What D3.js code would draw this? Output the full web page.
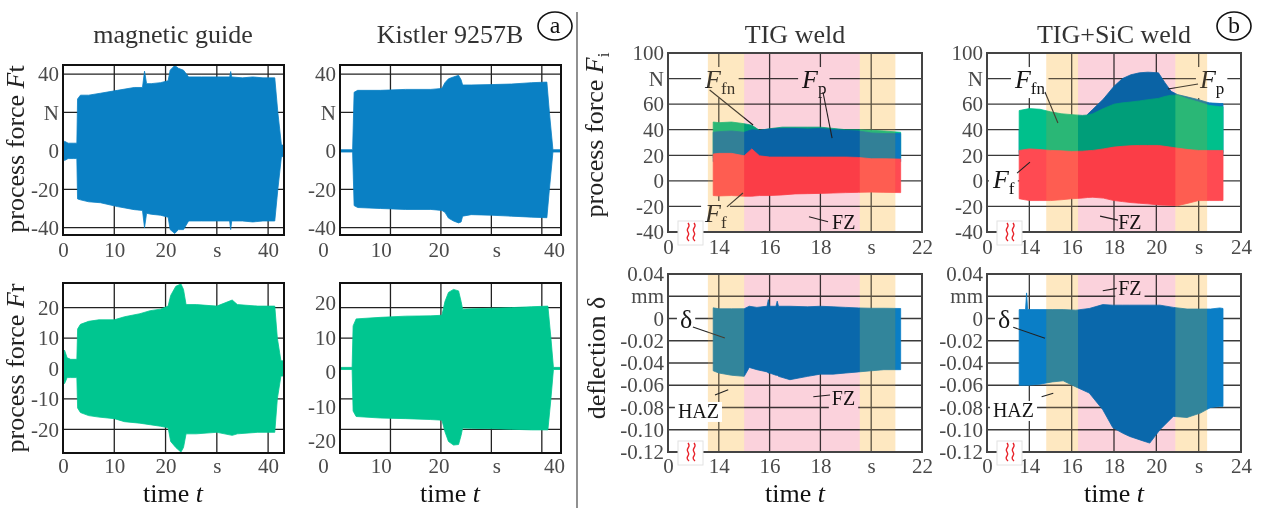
<!DOCTYPE html>
<html>
<head>
<meta charset="utf-8">
<script src="https://cdn.jsdelivr.net/npm/d3@7"></script>
<style>
  body { margin: 0; background: #fff; }
  svg { display: block; font-family: "Liberation Serif", "Times New Roman", serif; }
</style>
</head>
<body>
<svg id="fig" width="1268" height="508"></svg>
<script>
// ---- (a) magnetic guide vs Kistler, envelopes of the oscillating force signals
const magFtT  = [0, 0.3, 1.0, 2.0, 2.7, 2.84, 3.4, 5, 7.3, 10.6, 13.9, 15.5, 15.9, 16.3, 17.2, 19, 20.5, 20.9, 21.8, 22.5, 23.5, 24.5, 27, 30, 32.5, 32.7, 32.9, 35, 37, 39, 41.3, 41.9, 42.6, 43.1];
const magFtUp = [3, 5, 4, 4, 4, 27, 29, 29, 30, 31.5, 33, 33, 41.5, 35, 35, 35.5, 36.5, 42, 44.5, 43, 42, 38.5, 38.5, 38.5, 38.5, 41.3, 38.5, 38, 38.5, 38, 38, 20, 3, 3];
const magFtLo = [-3, -5, -4, -4, -4, -25, -25.5, -26.5, -27, -29, -30.6, -31, -40, -32.5, -33, -33.5, -34.5, -41, -43, -41, -41, -36.5, -36.5, -36.5, -36.5, -41, -36.5, -36.5, -37, -36.5, -36.5, -20, -3, -3];

const kisFtT  = [0, 2.5, 2.8, 3.5, 8, 13, 18, 20.2, 20.8, 21.5, 22.5, 23.5, 24.0, 24.3, 26, 30, 34, 38, 41.0, 41.5, 42.2, 43.8];
const kisFtUp = [0.6, 0.6, 30.5, 31.5, 31.5, 32, 32, 32.5, 35.5, 37.5, 38.5, 39.3, 37, 34.3, 34.3, 34.5, 34.8, 35.5, 35.8, 20, 0.6, 0.6];
const kisFtLo = [-0.6, -0.6, -28.5, -29.5, -30, -30.5, -30.5, -31, -32, -35, -36.5, -37.5, -37, -34, -33.2, -33.5, -34, -34.5, -34.8, -20, -0.6, -0.6];

const magFrT  = [0, 0.3, 0.8, 1.5, 2.7, 2.85, 3.4, 5, 7, 10, 12, 15, 17, 19, 20.5, 21, 22, 23, 23.5, 24, 26, 30, 33, 34, 38, 41.3, 41.8, 42.5, 43.1];
const magFrUp = [2, 6, 3.5, 3, 3, 13, 14.5, 15.5, 16, 16, 17, 18, 19, 19.5, 20.5, 24, 27, 27.8, 26, 21, 21, 20.5, 22.5, 21, 20.5, 20.5, 10, 2.5, 2.5];
const magFrLo = [-2, -5, -3, -3, -3, -13, -14.5, -15.5, -16, -16.5, -17.5, -18, -18.5, -19, -19.5, -24, -26, -27.5, -26, -21.5, -21.5, -21, -22, -21.5, -21, -21, -10, -2.5, -2.5];

const kisFrT  = [0, 2.4, 2.6, 3.2, 8, 13, 18, 20.2, 20.8, 21.5, 22.5, 23.5, 24.0, 24.3, 26, 30, 34, 38, 41.2, 41.8, 42.3, 43.8];
const kisFrUp = [0.35, 0.35, 14, 16.3, 16.8, 17.2, 17.3, 17.5, 22, 25, 26, 25.5, 22, 19.5, 19.6, 19.8, 20, 20.3, 20.5, 10, 0.35, 0.35];
const kisFrLo = [-0.35, -0.35, -14, -15.8, -16.3, -16.5, -16.8, -17, -20.8, -24, -25.2, -25, -22, -19.6, -19.7, -19.8, -20, -20.2, -20.2, -10, -0.35, -0.35];

// ---- (b) TIG weld: forces F_fn, F_p, F_f and deflection
const tigT     = [13.78, 14.0, 14.5, 15.0, 15.3, 15.6, 16.0, 16.5, 17.0, 17.5, 18.0, 18.5, 19.0, 19.5, 20.0, 20.5, 21.16];
const tigFfnUp = [46, 45.5, 46, 44.7, 43.5, 39.5, 40.8, 42, 42, 42, 42, 41, 40, 40, 39.6, 39, 38];
const tigFfnLo = [18, 18, 18, 18, 18, 18, 18, 18, 18, 18, 18, 18, 18, 18, 18, 18, 18];
const tigFpUp  = [38, 38.5, 39, 38, 40, 39.5, 40.5, 41, 41, 40.5, 41, 40, 39.5, 39, 37.5, 37, 37];
const tigFpLo  = [15, 15, 15, 15, 15, 15, 15, 15, 15, 15, 15, 15, 15, 15, 15, 15, 15];
const tigFfUp  = [21, 21.5, 21.5, 19.6, 25, 19.6, 18.6, 18.6, 18.6, 18.6, 18.6, 18.6, 18.6, 18.3, 17.3, 17.3, 17];
const tigFfLo  = [-11.5, -11.8, -11.5, -12, -12, -11.5, -11.5, -11, -10.2, -10, -9.8, -9.5, -9.2, -9, -8.8, -9, -9.2];

const tigDT  = [13.78, 14.0, 14.5, 15.0, 15.2, 15.5, 15.9, 15.95, 16.0, 16.25, 16.3, 16.35, 16.8, 17.5, 18.0, 18.5, 19.0, 19.5, 20.0, 20.5, 21.16];
const tigDUp = [0.0096, 0.0087, 0.0087, 0.0088, 0.011, 0.010, 0.011, 0.017, 0.011, 0.011, 0.0156, 0.011, 0.011, 0.0105, 0.011, 0.0105, 0.010, 0.0095, 0.0092, 0.0092, 0.009];
const tigDLo = [-0.047, -0.049, -0.051, -0.052, -0.044, -0.046, -0.048, -0.049, -0.049, -0.051, -0.051, -0.052, -0.055, -0.052, -0.050, -0.050, -0.049, -0.048, -0.047, -0.046, -0.046];

// ---- (b) TIG+SiC weld
const sicT     = [13.52, 14.0, 14.5, 15.0, 15.5, 16.0, 16.5, 16.75, 17.0, 17.5, 18.0, 18.4, 18.8, 19.2, 19.6, 20.1, 20.4, 20.7, 21.0, 21.5, 22.0, 22.5, 23.0, 23.15];
const sicFpUp  = [40, 40, 40, 40, 40, 40, 40, 52, 56, 64, 74, 80, 83, 84.5, 85, 84.5, 77, 70, 67.5, 65.5, 63.5, 61, 60.5, 60.5];
const sicFpLo  = [20, 20, 20, 20, 20, 20, 20, 20, 20, 20, 20, 20, 20, 20, 20, 20, 20, 20, 20, 20, 20, 20, 20, 20];
const sicFfnUp = [55, 56.5, 56, 54, 52.5, 51.8, 51.2, 51.5, 52.5, 56.5, 60, 61, 61.7, 62.5, 63.5, 64.5, 66, 67, 67, 64, 61.7, 59, 58, 58];
const sicFfnLo = [22, 22, 22, 22, 22, 22, 22, 22, 22, 22, 22, 22, 22, 22, 22, 22, 22, 22, 22, 22, 22, 22, 22, 22];
const sicFfUp  = [23.8, 25, 24.5, 23.8, 23.5, 23, 23.2, 23.5, 23.8, 25, 26.4, 27, 27.5, 27.7, 27.7, 27.7, 27, 26.3, 25.6, 24.5, 23.8, 23.8, 23.8, 23.8];
const sicFfLo  = [-14, -15.4, -15.4, -15.4, -14.8, -14, -13.5, -13, -12.8, -13.5, -15.4, -16.2, -17, -17.5, -18, -18.8, -19, -19.2, -19.4, -17.5, -15.4, -15.4, -15.4, -15.4];

const sicDT  = [13.52, 13.82, 13.87, 13.92, 14.5, 15.08, 15.6, 16.2, 16.83, 17.47, 17.94, 18.4, 18.74, 19.37, 19.69, 20.17, 20.8, 21.45, 22.08, 22.56, 23.0, 23.15];
const sicDUp = [0.008, 0.008, 0.023, 0.008, 0.008, 0.008, 0.008, 0.0075, 0.009, 0.0125, 0.012, 0.012, 0.012, 0.012, 0.012, 0.012, 0.010, 0.0085, 0.0085, 0.0085, 0.0095, 0.009];
const sicDLo = [-0.06, -0.06, -0.06, -0.06, -0.059, -0.057, -0.056, -0.0615, -0.067, -0.082, -0.098, -0.103, -0.106, -0.11, -0.112, -0.1, -0.088, -0.089, -0.085, -0.08, -0.079, -0.079];

// weld zones (s): heat affected zone / fusion zone
const tigZones = [[13.57, 15.0, "HAZ"], [15.0, 19.55, "FZ"], [19.55, 20.95, "HAZ"]];
const sicZones = [[14.8, 16.3, "HAZ"], [16.3, 20.9, "FZ"], [20.9, 22.4, "HAZ"]];

// ticks
const leftXTicks = [0, 10, 20, 30, 40];
const ftTicks = [-40, -20, 0, 20, 40];
const frTicks = [-20, -10, 0, 10, 20];
const tigXTicks = [12, 14, 16, 18, 20, 22];
const sicXTicks = [12, 14, 16, 18, 20, 22, 24];
const forceTicks = [-40, -20, 0, 20, 40, 60, 80, 100];
const deflTicks = [-0.12, -0.10, -0.08, -0.06, -0.04, -0.02, 0, 0.02, 0.04];

const C = { ft: "#0a80c4", fr: "#00c690", ffn: "#00c08c", fp: "#0a78c0", ff: "#ff4a52", d: "#0a7ec6",
            hazMul: "#ffecc8", hazTint: "#fad7a0", fz: "#fbd2dc" };

const svg = d3.select("#fig");
let clipN = 0;

function panel(o) {
  const p = { o };
  p.x = d3.scaleLinear().domain(o.xd).range([o.x0, o.x1]);
  p.y = d3.scaleLinear().domain(o.yd).range([o.y1, o.y0]);
  const id = "clip" + (clipN++);
  svg.append("clipPath").attr("id", id).append("rect")
    .attr("x", o.x0).attr("y", o.y0).attr("width", o.x1 - o.x0).attr("height", o.y1 - o.y0);
  p.grid = svg.append("g");
  p.data = svg.append("g").attr("clip-path", `url(#${id})`);
  p.ann = svg.append("g");
  p.zone = svg.append("g");
  p.frame = svg.append("g");
  p.top = svg.append("g");

  p.grid.selectAll("line.v").data(o.xt.filter(d => d > o.xd[0] && d < o.xd[1])).join("line")
    .attr("class", "v")
    .attr("x1", d => p.x(d)).attr("x2", d => p.x(d)).attr("y1", o.y0).attr("y2", o.y1)
    .attr("stroke", o.grid).attr("stroke-width", 1.3);
  p.grid.selectAll("line.h").data(o.yt.filter(d => d > o.yd[0] && d < o.yd[1])).join("line")
    .attr("class", "h")
    .attr("x1", o.x0).attr("x2", o.x1).attr("y1", d => p.y(d)).attr("y2", d => p.y(d))
    .attr("stroke", o.grid).attr("stroke-width", 1.3);

  p.frame.append("rect").attr("x", o.x0).attr("y", o.y0)
    .attr("width", o.x1 - o.x0).attr("height", o.y1 - o.y0)
    .attr("fill", "none").attr("stroke", o.border).attr("stroke-width", 2);

  const xl = o.xLab ? d3.scaleLinear().domain(o.xLab[0]).range(o.xLab[1]) : p.x;
  const yl = o.yLab ? d3.scaleLinear().domain(o.yLab[0]).range(o.yLab[1]) : p.y;
  const ax = p.frame.append("g").attr("transform", `translate(0,${o.y1})`)
    .call(d3.axisBottom(xl).tickValues(o.xt).tickFormat(o.xf).tickSize(0).tickPadding(o.xpad || 7));
  const ay = p.frame.append("g").attr("transform", `translate(${o.x0},0)`)
    .call(d3.axisLeft(yl).tickValues(o.yt).tickFormat(o.yf).tickSize(0).tickPadding(4));
  [ax, ay].forEach(a => {
    a.select(".domain").remove();
    a.attr("font-family", null).attr("font-size", 21);
    a.selectAll("text").attr("fill", "#4a4a4a");
  });
  return p;
}

function band(p, t, up, lo, color) {
  const rows = t.map((d, i) => ({ t: d, u: up[i], l: lo[i] }));
  p.data.append("path").datum(rows)
    .attr("d", d3.area().x(d => p.x(d.t)).y0(d => p.y(d.l)).y1(d => p.y(d.u)))
    .attr("fill", color).attr("stroke", color).attr("stroke-width", 0.8);
}

function zones(p, z) {
  const sel = p.zone.selectAll("g").data(z).join("g");
  const place = r => r.attr("x", d => p.x(d[0])).attr("width", d => p.x(d[1]) - p.x(d[0]))
    .attr("y", p.o.y0).attr("height", p.o.y1 - p.o.y0);
  // fusion zone: pink multiply; heat affected zone: multiply plus a light orange tint
  sel.append("rect").call(place)
    .attr("fill", d => d[2] === "FZ" ? C.fz : C.hazMul)
    .style("mix-blend-mode", "multiply");
  sel.filter(d => d[2] === "HAZ").append("rect").call(place)
    .attr("fill", C.hazTint).attr("opacity", 0.17);
}

function note(p, a, layer) {
  const g = (layer || p.ann).append("g");
  g.append("line")
    .attr("x1", p.x(a.from[0])).attr("y1", p.y(a.from[1]))
    .attr("x2", p.x(a.to[0])).attr("y2", p.y(a.to[1]))
    .attr("stroke", "#222").attr("stroke-width", 1.1);
  const txt = g.append("text").attr("x", p.x(a.at[0])).attr("y", p.y(a.at[1]))
    .attr("font-size", a.size || 26).attr("fill", "#151515");
  a.parts.forEach(s => {
    const ts = txt.append("tspan").text(s[0]);
    if (s[1] === "it") ts.attr("font-style", "italic");
    if (s[1] === "sub") ts.attr("font-size", 17).attr("dy", 6);
  });
  const bb = txt.node().getBBox();
  g.insert("rect", ":first-child").attr("x", bb.x - 3).attr("y", bb.y + 2)
    .attr("width", bb.width + 6).attr("height", bb.height - 2).attr("fill", "#fff");
}

function brk(p) {
  const o = p.o;
  const g = p.top.append("g").attr("transform", `translate(${o.x0 + 22},${o.y1})`);
  g.append("rect").attr("x", -12).attr("y", -11).attr("width", 25).attr("height", 24)
    .attr("fill", "#fff").attr("stroke", "#e2e2e2").attr("stroke-width", 1);
  const wave = d3.line().curve(d3.curveBasis);
  [-3, 3].forEach(dx => g.append("path")
    .attr("d", wave([[dx + 1, -9], [dx + 3, -6], [dx - 1, -2], [dx + 3, 2], [dx - 1, 6], [dx + 2, 9]]))
    .attr("fill", "none").attr("stroke", "#e8232a").attr("stroke-width", 1.4));
}

const leftFmt = d => d === 30 ? "s" : d;
const ftFmt = d => d === 20 ? "N" : d;
const frFmt = d => d;
const tigFmt = d => d === 12 ? "0" : d === 20 ? "s" : d;
const sicFmt = d => d === 12 ? "0" : d === 22 ? "s" : d;
const forceFmt = d => d === 80 ? "N" : d;
const deflFmt = d => d === 0.02 ? "mm" : d === 0 ? "0" : d.toFixed(2);

const L = { border: "#111", grid: "#222" }, R = { border: "#444", grid: "#3a3a3a" };

// ---- panels (a)
const pA1 = panel({ ...L, x0: 63, x1: 284, y0: 65, y1: 235, xd: [0, 43.1], yd: [-43.8, 44.7],
  xt: leftXTicks, yt: ftTicks, xf: leftFmt, yf: ftFmt });
band(pA1, magFtT, magFtUp, magFtLo, C.ft);

const pA2 = panel({ ...L, x0: 340, x1: 561, y0: 65, y1: 235, xd: [0, 43.8], yd: [-43.8, 44.7],
  xt: leftXTicks, yt: ftTicks, xf: leftFmt, yf: ftFmt, xLab: [[0, 40], [323, 554]] });
band(pA2, kisFtT, kisFtUp, kisFtLo, C.ft);

const pA3 = panel({ ...L, x0: 63, x1: 284, y0: 283, y1: 453, xd: [0, 43.1], yd: [-27.8, 28.1],
  xt: leftXTicks, yt: frTicks, xf: leftFmt, yf: frFmt, xpad: 5 });
band(pA3, magFrT, magFrUp, magFrLo, C.fr);

const pA4 = panel({ ...L, x0: 340, x1: 561, y0: 283, y1: 453, xd: [0, 43.8], yd: [-27.8, 28.1],
  xt: leftXTicks, yt: frTicks, xf: leftFmt, yf: frFmt, xpad: 5,
  xLab: [[0, 40], [323, 554]], yLab: [[-20, 20], [441, 303]] });
band(pA4, kisFrT, kisFrUp, kisFrLo, C.fr);

// ---- panels (b)
const pB1 = panel({ ...R, x0: 668, x1: 922, y0: 53, y1: 232, xd: [12, 22], yd: [-40, 100],
  xt: tigXTicks, yt: forceTicks, xf: tigFmt, yf: forceFmt });
band(pB1, tigT, tigFfnUp, tigFfnLo, C.ffn);
band(pB1, tigT, tigFpUp, tigFpLo, C.fp);
band(pB1, tigT, tigFfUp, tigFfLo, C.ff);
note(pB1, { parts: [["F", "it"], ["fn", "sub"]], at: [13.46, 72.6], from: [13.64, 71.1], to: [15.35, 43.7] });
note(pB1, { parts: [["F", "it"], ["p", "sub"]], at: [17.28, 72.6], from: [18.1, 69.5], to: [18.46, 33.5] });
note(pB1, { parts: [["F", "it"], ["f", "sub"]], at: [13.46, -32.2], from: [14.32, -20.4], to: [14.95, -9.5] });
note(pB1, { parts: [["FZ"]], size: 20, at: [18.46, -37.4], from: [17.55, -28], to: [18.3, -32] });
zones(pB1, tigZones);
brk(pB1);

const pB2 = panel({ ...R, x0: 987, x1: 1241, y0: 53, y1: 232, xd: [12, 24], yd: [-40, 100],
  xt: sicXTicks, yt: forceTicks, xf: sicFmt, yf: forceFmt });
band(pB2, sicT, sicFpUp, sicFpLo, C.fp);
band(pB2, sicT, sicFfnUp, sicFfnLo, C.ffn);
band(pB2, sicT, sicFfUp, sicFfLo, C.ff);
note(pB2, { parts: [["F", "it"], ["fn", "sub"]], at: [13.32, 72.6], from: [14.74, 69.5], to: [15.35, 45.3] });
note(pB2, { parts: [["F", "it"], ["p", "sub"]], at: [22.06, 72.6], from: [21.97, 75.8], to: [20.55, 71.8] });
note(pB2, { parts: [["F", "it"], ["f", "sub"]], at: [12.28, -5.5], from: [13.42, 6.1], to: [14.03, 14.7] });
note(pB2, { parts: [["FZ"]], size: 20, at: [18.2, -37.4], from: [17.34, -27.6], to: [18.19, -30.7] });
zones(pB2, sicZones);
brk(pB2);

const pB3 = panel({ ...R, x0: 668, x1: 922, y0: 274, y1: 452, xd: [12, 22], yd: [-0.12, 0.04],
  xt: tigXTicks, yt: deflTicks, xf: tigFmt, yf: deflFmt, xpad: 6 });
band(pB3, tigDT, tigDUp, tigDLo, C.d);
note(pB3, { parts: [["δ"]], at: [12.47, -0.0085], from: [12.98, -0.0076], to: [14.24, -0.0175] });
note(pB3, { parts: [["FZ"]], size: 20, at: [18.45, -0.0778], from: [17.72, -0.0703], to: [18.38, -0.0688] });
zones(pB3, tigZones);
note(pB3, { parts: [["HAZ"]], size: 20, at: [12.39, -0.0894], from: [13.85, -0.0688], to: [14.37, -0.064] }, pB3.top);
brk(pB3);

const pB4 = panel({ ...R, x0: 987, x1: 1241, y0: 274, y1: 452, xd: [12, 24], yd: [-0.12, 0.04],
  xt: sicXTicks, yt: deflTicks, xf: sicFmt, yf: deflFmt, xpad: 6 });
band(pB4, sicDT, sicDUp, sicDLo, C.d);
note(pB4, { parts: [["δ"]], at: [12.52, -0.0085], from: [13.24, -0.0079], to: [14.74, -0.0178] });
note(pB4, { parts: [["FZ"]], size: 20, at: [18.2, 0.0211], from: [17.47, 0.025], to: [18.13, 0.0271] });
zones(pB4, sicZones);
note(pB4, { parts: [["HAZ"]], size: 20, at: [12.28, -0.0885], from: [14.58, -0.0703], to: [15.13, -0.0672] }, pB4.top);
brk(pB4);

// ---- titles and axis labels
const titles = [["magnetic guide", 173], ["Kistler 9257B", 450], ["TIG weld", 795], ["TIG+SiC weld", 1114]];
svg.selectAll("text.title").data(titles).join("text").attr("class", "title")
  .attr("x", d => d[1]).attr("y", 43).attr("text-anchor", "middle")
  .attr("font-size", 26).attr("fill", "#333").text(d => d[0]);

[173, 450, 795, 1114].forEach(cx => {
  const t = svg.append("text").attr("x", cx).attr("y", 502).attr("text-anchor", "middle")
    .attr("font-size", 26).attr("fill", "#111");
  t.append("tspan").text("time ");
  t.append("tspan").attr("font-style", "italic").text("t");
});

function yTitle(x, cy, parts) {
  const t = svg.append("text").attr("transform", `translate(${x},${cy}) rotate(-90)`)
    .attr("text-anchor", "middle").attr("font-size", 26).attr("fill", "#222");
  parts.forEach(s => {
    const ts = t.append("tspan").text(s[0]);
    if (s[1] === "it") ts.attr("font-style", "italic");
    if (s[1] === "sub") ts.attr("font-size", 17).attr("dy", 6);
  });
}
yTitle(24, 149, [["process force "], ["F", "it"], ["t"]]);
yTitle(24, 368, [["process force "], ["F", "it"], ["r"]]);
yTitle(603, 135, [["process force "], ["F", "it"], ["i", "sub"]]);
yTitle(605, 358, [["deflection δ"]]);

// ---- panel markers and separator
svg.append("line").attr("x1", 577).attr("x2", 577).attr("y1", 12).attr("y2", 508)
  .attr("stroke", "#555").attr("stroke-width", 1.3);
[["a", 555, 26], ["b", 1234, 26]].forEach(m => {
  svg.append("ellipse").attr("cx", m[1]).attr("cy", m[2]).attr("rx", 17).attr("ry", 14)
    .attr("fill", "none").attr("stroke", "#111").attr("stroke-width", 1.6);
  svg.append("text").attr("x", m[1]).attr("y", m[2] + 7).attr("text-anchor", "middle")
    .attr("font-size", 24).attr("fill", "#111").text(m[0]);
});
</script>
</body>
</html>
